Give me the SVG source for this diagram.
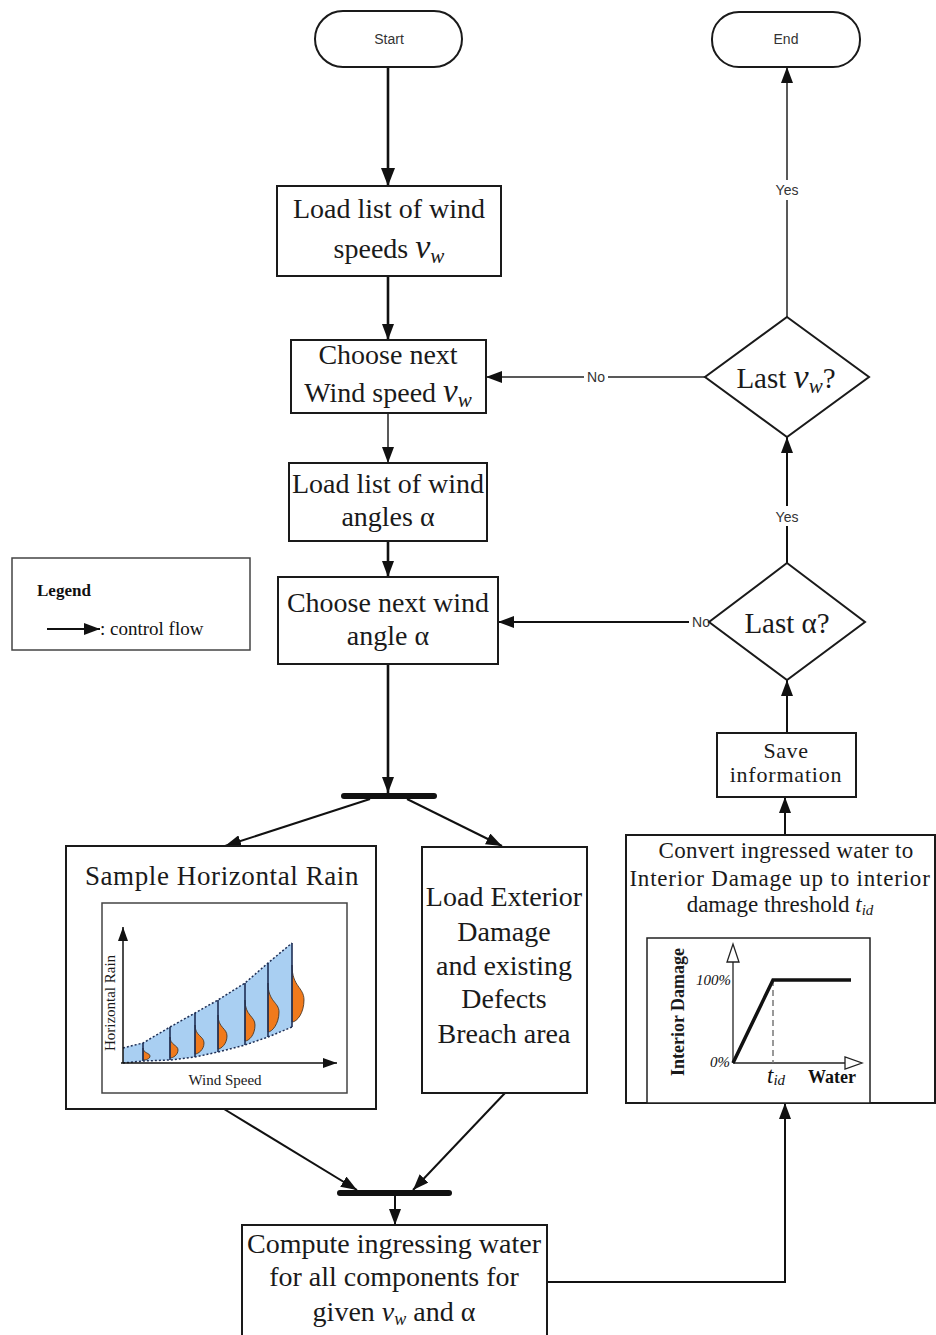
<svg xmlns="http://www.w3.org/2000/svg" width="936" height="1335" viewBox="0 0 936 1335">
<defs>
<style>
.box{fill:#fff;stroke:#1a1a1a;stroke-width:2}
.term{fill:#fff;stroke:#1a1a1a;stroke-width:2}
.t{font-family:"Liberation Serif","Times New Roman",serif;fill:#1a1a1a;text-anchor:middle}
.s{font-family:"Liberation Sans",Arial,sans-serif;fill:#333;text-anchor:middle;font-size:14px}
.thick{fill:none;stroke:#111;stroke-width:2.6}
.thin{fill:none;stroke:#222;stroke-width:1.5}
.med{fill:none;stroke:#111;stroke-width:2}
.bar{stroke:#111;stroke-width:6;stroke-linecap:round}
.lbl{fill:#fff}
</style>
<marker id="ah" viewBox="0 0 16 12" refX="16" refY="6" markerWidth="16" markerHeight="12" markerUnits="userSpaceOnUse" orient="auto">
<path d="M0,0 L16,6 L0,12 z" fill="#111"/>
</marker>
<marker id="ahs" viewBox="0 0 14 10" refX="14" refY="5" markerWidth="14" markerHeight="10" markerUnits="userSpaceOnUse" orient="auto">
<path d="M0,0 L14,5 L0,10 z" fill="#111"/>
</marker>
<marker id="ahb" viewBox="0 0 18 14" refX="18" refY="7" markerWidth="18" markerHeight="14" markerUnits="userSpaceOnUse" orient="auto">
<path d="M0,0 L18,7 L0,14 z" fill="#111"/>
</marker>
</defs>
<rect width="936" height="1335" fill="#fff"/>

<g id="connectors">
<line class="thick" x1="388" y1="67" x2="388" y2="186" marker-end="url(#ahb)"/>
<line class="thick" x1="388" y1="276" x2="388" y2="340" marker-end="url(#ah)"/>
<line class="thin" x1="388" y1="413" x2="388" y2="463" marker-end="url(#ah)"/>
<line class="thick" x1="388" y1="541" x2="388" y2="577" marker-end="url(#ah)"/>
<line class="thick" x1="388" y1="664" x2="388" y2="793" marker-end="url(#ah)"/>
<line class="bar" x1="344" y1="796" x2="434" y2="796"/>
<line class="med" x1="370" y1="799" x2="225" y2="846" marker-end="url(#ah)"/>
<line class="med" x1="407" y1="799" x2="502" y2="846" marker-end="url(#ah)"/>
<line class="med" x1="224" y1="1109" x2="357" y2="1190" marker-end="url(#ah)"/>
<line class="med" x1="505" y1="1093" x2="413" y2="1190" marker-end="url(#ah)"/>
<line class="bar" x1="340" y1="1193" x2="449" y2="1193"/>
<line class="med" x1="395" y1="1196" x2="395" y2="1225" marker-end="url(#ah)"/>
<polyline class="med" points="547,1282 785,1282 785,1103" marker-end="url(#ah)"/>
<line class="med" x1="785" y1="835" x2="785" y2="797" marker-end="url(#ah)"/>
<line class="med" x1="787" y1="733" x2="787" y2="680" marker-end="url(#ah)"/>
<line class="med" x1="787" y1="563" x2="787" y2="437" marker-end="url(#ah)"/>
<rect class="lbl" x="770" y="506" width="34" height="20"/>
<text class="s" x="787" y="522">Yes</text>
<line class="thin" x1="787" y1="317" x2="787" y2="67" marker-end="url(#ah)"/>
<rect class="lbl" x="771" y="180" width="32" height="20"/>
<text class="s" x="787" y="195">Yes</text>
<line class="thin" x1="705" y1="377" x2="486" y2="377" marker-end="url(#ah)"/>
<rect class="lbl" x="584" y="368" width="24" height="18"/>
<text class="s" x="596" y="382">No</text>
<line class="med" x1="709" y1="622" x2="498" y2="622" marker-end="url(#ah)"/>
<rect class="lbl" x="689" y="613" width="22" height="18"/>
<text class="s" x="701" y="627">No</text>
</g>

<g id="start">
<rect class="term" x="315" y="11" width="147" height="56" rx="28"/>
<text class="s" x="389" y="44">Start</text>
</g>

<g id="end">
<rect class="term" x="712" y="12" width="148" height="55" rx="27"/>
<text class="s" x="786" y="44">End</text>
</g>

<g id="load-speeds">
<rect class="box" x="277" y="186" width="224" height="90"/>
<text class="t" x="389" y="218" font-size="28">Load list of wind</text>
<text class="t" x="389" y="258" font-size="28">speeds <tspan font-style="italic" font-size="34">v</tspan><tspan font-style="italic" font-size="21" dy="5">w</tspan></text>
</g>

<g id="choose-speed">
<rect class="box" x="291" y="340" width="195" height="73"/>
<text class="t" x="388" y="364" font-size="28">Choose next</text>
<text class="t" x="388" y="402" font-size="28">Wind speed <tspan font-style="italic" font-size="33">v</tspan><tspan font-style="italic" font-size="21" dy="5">w</tspan></text>
</g>

<g id="load-angles">
<rect class="box" x="289" y="463" width="198" height="78"/>
<text class="t" x="388" y="493" font-size="28">Load list of wind</text>
<text class="t" x="388" y="526" font-size="28">angles α</text>
</g>

<g id="choose-angle">
<rect class="box" x="278" y="577" width="220" height="87"/>
<text class="t" x="388" y="612" font-size="28">Choose next wind</text>
<text class="t" x="388" y="645" font-size="28">angle α</text>
</g>

<g id="last-speed">
<polygon class="box" points="787,317 869,377 787,437 705,377"/>
<text class="t" x="786" y="388" font-size="29">Last <tspan font-style="italic" font-size="34">v</tspan><tspan font-style="italic" font-size="21" dy="5">w</tspan><tspan dy="-5">?</tspan></text>
</g>

<g id="last-angle">
<polygon class="box" points="787,563 865,622 787,680 709,622"/>
<text class="t" x="787" y="633" font-size="29">Last α?</text>
</g>

<g id="save">
<rect class="box" x="717" y="733" width="139" height="64"/>
<text class="t" x="786" y="758" font-size="22" letter-spacing="0.6">Save</text>
<text class="t" x="786" y="782" font-size="22" letter-spacing="0.8">information</text>
</g>

<g id="legend">
<rect x="12" y="558" width="238" height="92" fill="#fff" stroke="#444" stroke-width="1.5"/>
<text x="37" y="596" font-family="Liberation Serif,serif" font-weight="bold" font-size="17" fill="#111">Legend</text>
<line x1="47" y1="629" x2="100" y2="629" stroke="#111" stroke-width="2" marker-end="url(#ah)"/>
<text x="100" y="635" font-family="Liberation Serif,serif" font-size="19" fill="#111">: control flow</text>
</g>

<g id="sample-rain">
<rect class="box" x="66" y="846" width="310" height="263"/>
<text class="t" x="222" y="885" font-size="27" letter-spacing="0.6">Sample Horizontal Rain</text>
<rect x="102" y="903" width="245" height="190" fill="#fff" stroke="#444" stroke-width="1.5"/>
<polygon points="123,1048 143,1043 170,1027 195,1013 218,1000 245,983 268,963 292,943 292,1027 268,1037 245,1045 218,1052 195,1057 170,1060 143,1061 123,1063" fill="#a9cff2"/>
<polyline points="123,1048 143,1043 170,1027 195,1013 218,1000 245,983 268,963 292,943" fill="none" stroke="#1f2f55" stroke-width="1.5" stroke-dasharray="2,2"/>
<polyline points="123,1063 143,1061 170,1060 195,1057 218,1052 245,1045 268,1037 292,1027" fill="none" stroke="#1f2f55" stroke-width="1.5" stroke-dasharray="2,2"/>
<g fill="#f07a1c" stroke="#3a2a1a" stroke-width="0.8">
<path d="M143,1048 C143,1053 150,1053 150,1056 C150,1059 146,1060 143,1060 Z"/>
<path d="M170,1037 C170,1045 178,1045 178,1050 C178,1055 173,1058 170,1058 Z"/>
<path d="M195,1025 C195,1036 204,1036 204,1043 C204,1050 198,1054 195,1054 Z"/>
<path d="M218,1015 C218,1028 227,1028 227,1036 C227,1044 221,1049 218,1049 Z"/>
<path d="M245,1000 C245,1016 255,1016 255,1025 C255,1035 249,1041 245,1041 Z"/>
<path d="M268,983 C268,1002 279,1002 279,1012 C279,1024 272,1032 268,1032 Z"/>
<path d="M292,965 C292,987 304,987 304,1000 C304,1013 297,1022 292,1022 Z"/>
</g>
<g stroke="#1f2f55" stroke-width="1.6">
<line x1="292" y1="943" x2="292" y2="1027"/>
<line x1="268" y1="963" x2="268" y2="1037"/>
<line x1="245" y1="983" x2="245" y2="1045"/>
<line x1="218" y1="1000" x2="218" y2="1052"/>
<line x1="195" y1="1013" x2="195" y2="1057"/>
<line x1="170" y1="1027" x2="170" y2="1060"/>
<line x1="143" y1="1043" x2="143" y2="1061"/>
</g>
<line x1="123" y1="1063" x2="123" y2="927" stroke="#111" stroke-width="1.5" marker-end="url(#ahs)"/>
<line x1="121" y1="1063" x2="337" y2="1063" stroke="#111" stroke-width="1.5" marker-end="url(#ahs)"/>
<text class="t" font-size="15" transform="translate(115,1003) rotate(-90)">Horizontal Rain</text>
<text class="t" x="225" y="1085" font-size="15">Wind Speed</text>
</g>

<g id="load-exterior">
<rect class="box" x="422" y="847" width="165" height="246"/>
<text class="t" x="504" y="906" font-size="28">Load Exterior</text>
<text class="t" x="504" y="941" font-size="28">Damage</text>
<text class="t" x="504" y="975" font-size="28">and existing</text>
<text class="t" x="504" y="1008" font-size="28">Defects</text>
<text class="t" x="504" y="1043" font-size="28">Breach area</text>
</g>

<g id="convert">
<rect class="box" x="626" y="835" width="309" height="268"/>
<text class="t" x="786" y="858" font-size="23" letter-spacing="0.3">Convert ingressed water to</text>
<text class="t" x="780" y="886" font-size="23" letter-spacing="0.8">Interior Damage up to interior</text>
<text class="t" x="780" y="912" font-size="23">damage threshold <tspan font-style="italic">t</tspan><tspan font-style="italic" font-size="15" dy="3">id</tspan></text>
<rect x="647" y="938" width="223" height="165" fill="#fff" stroke="#222" stroke-width="1.5"/>
<line x1="733" y1="1063" x2="733" y2="962" stroke="#222" stroke-width="1.3"/>
<polygon points="727,962 739,962 733,944" fill="#fff" stroke="#222" stroke-width="1.3"/>
<line x1="733" y1="1063" x2="845" y2="1063" stroke="#222" stroke-width="1.3"/>
<polygon points="845,1057 845,1069 862,1063" fill="#fff" stroke="#222" stroke-width="1.3"/>
<line x1="773" y1="980" x2="773" y2="1063" stroke="#777" stroke-width="1.5" stroke-dasharray="6,4"/>
<polyline points="733,1063 773,980 851,980" fill="none" stroke="#111" stroke-width="3.5"/>
<text x="731" y="985" font-family="Liberation Serif,serif" font-style="italic" font-size="15" fill="#111" text-anchor="end">100%</text>
<text x="730" y="1067" font-family="Liberation Serif,serif" font-style="italic" font-size="15" fill="#111" text-anchor="end">0%</text>
<text x="767" y="1083" font-family="Liberation Serif,serif" font-style="italic" font-size="23" fill="#111">t<tspan font-size="15" dy="2">id</tspan></text>
<text x="808" y="1083" font-family="Liberation Serif,serif" font-weight="bold" font-size="18" fill="#111">Water</text>
<text class="t" font-size="18" font-weight="bold" transform="translate(684,1012) rotate(-90)">Interior Damage</text>
</g>

<g id="compute">
<rect class="box" x="242" y="1225" width="305" height="120"/>
<text class="t" x="394" y="1253" font-size="28">Compute ingressing water</text>
<text class="t" x="394" y="1286" font-size="28">for all components for</text>
<text class="t" x="394" y="1321" font-size="28">given <tspan font-style="italic">v</tspan><tspan font-style="italic" font-size="18" dy="4">w</tspan><tspan dy="-4"> and  α</tspan></text>
</g>
</svg>
